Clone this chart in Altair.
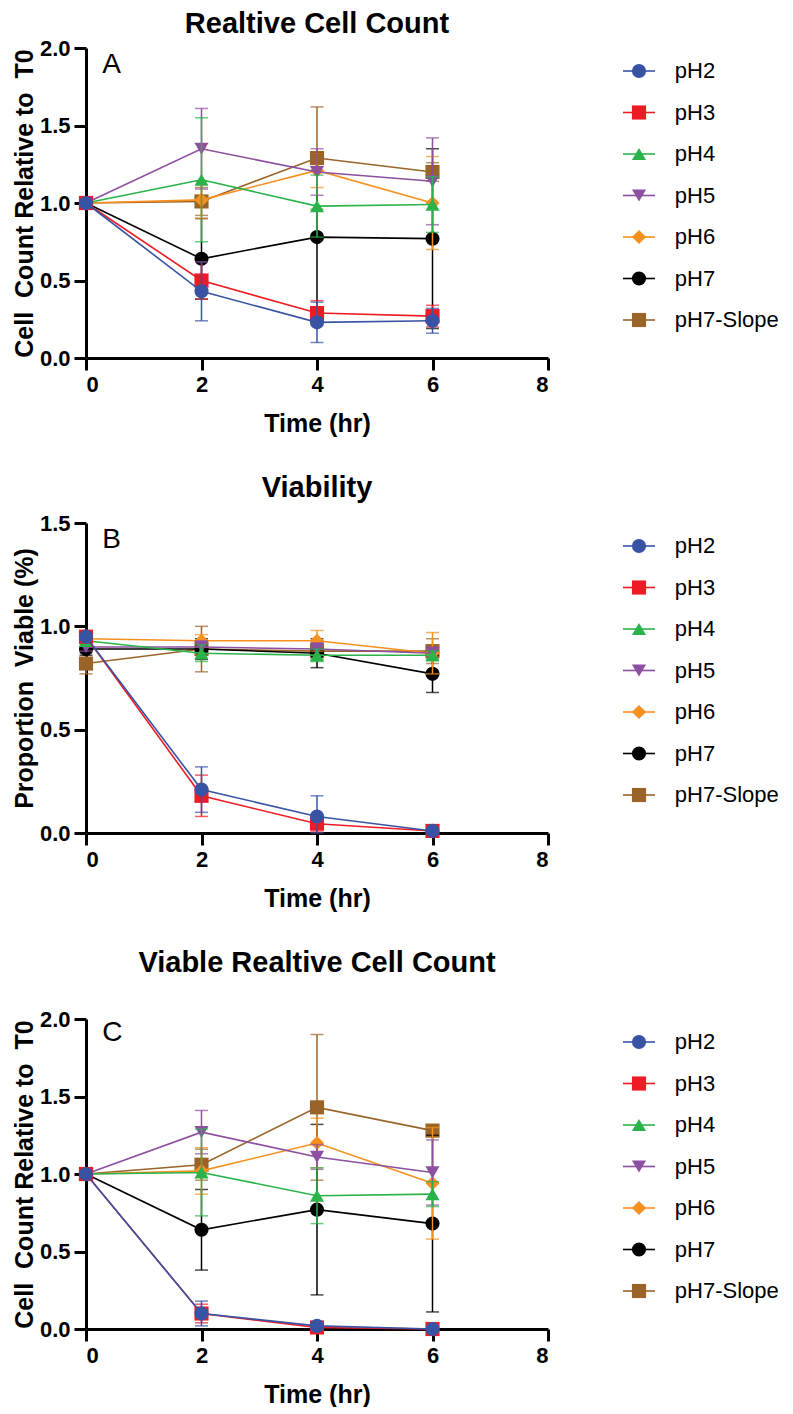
import altair as alt
import pandas as pd

# ---------------- data ----------------
times = [0, 2, 4, 6]
series = ["pH2", "pH3", "pH4", "pH5", "pH6", "pH7", "pH7-Slope"]
colors = ["#3953a4", "#ed1c24", "#2bb34b", "#8d4f9f", "#f7901e", "#000000", "#9a6428"]
shapes = ["circle", "square", "triangle-up", "triangle-down", "diamond", "circle", "square"]

# Panel A: relative cell count (mean, SD)
a_mean = [
    [1.0, 0.43, 0.23, 0.24],
    [1.0, 0.50, 0.29, 0.27],
    [1.0, 1.15, 0.98, 0.99],
    [1.0, 1.35, 1.20, 1.14],
    [1.0, 1.02, 1.21, 1.00],
    [1.0, 0.64, 0.78, 0.77],
    [1.0, 1.01, 1.29, 1.20],
]
a_err = [
    [0, 0.19, 0.13, 0.08],
    [0, 0.12, 0.08, 0.07],
    [0, 0.40, 0.20, 0.18],
    [0, 0.26, 0.15, 0.28],
    [0, 0.12, 0.11, 0.30],
    [0, 0.26, 0.54, 0.58],
    [0, 0.09, 0.33, 0.06],
]
# Panel B: viability
b_mean = [
    [0.95, 0.21, 0.08, 0.01],
    [0.95, 0.18, 0.045, 0.01],
    [0.93, 0.87, 0.86, 0.86],
    [0.90, 0.90, 0.89, 0.87],
    [0.94, 0.93, 0.93, 0.87],
    [0.89, 0.89, 0.87, 0.77],
    [0.82, 0.89, 0.88, 0.88],
]
b_err = [
    [0.01, 0.11, 0.10, 0.01],
    [0.01, 0.10, 0.04, 0.01],
    [0.02, 0.04, 0.03, 0.02],
    [0.02, 0.03, 0.03, 0.03],
    [0.02, 0.03, 0.05, 0.10],
    [0.03, 0.05, 0.07, 0.09],
    [0.05, 0.11, 0.04, 0.06],
]
# Panel C: viable relative cell count
c_mean = [
    [1.0, 0.10, 0.02, 0.00],
    [1.0, 0.10, 0.01, 0.00],
    [1.0, 1.01, 0.86, 0.87],
    [1.0, 1.27, 1.11, 1.01],
    [1.0, 1.02, 1.20, 0.94],
    [1.0, 0.64, 0.77, 0.68],
    [1.0, 1.06, 1.43, 1.28],
]
c_err = [
    [0, 0.08, 0.02, 0.0],
    [0, 0.06, 0.01, 0.0],
    [0, 0.28, 0.18, 0.08],
    [0, 0.14, 0.08, 0.21],
    [0, 0.15, 0.16, 0.36],
    [0, 0.26, 0.55, 0.57],
    [0, 0.10, 0.47, 0.03],
]

titles = ["Realtive Cell Count", "Viability", "Viable Realtive Cell Count"]
ytitles = ["Cell\u00a0 Count Relative to\u00a0 T0", "Proportion\u00a0 Viable (%)",
           "Cell\u00a0 Count Relative to\u00a0 T0"]
letters = ["A", "B", "C"]
letter_y = [1.84, 1.38, 1.86]
ymax = [2.0, 1.5, 2.0]
yticks = [[0, 0.5, 1.0, 1.5, 2.0], [0, 0.5, 1.0, 1.5], [0, 0.5, 1.0, 1.5, 2.0]]
xticks = [0, 2, 4, 6, 8]

FONT = "Liberation Sans"
PW, PH = 462, 310
LEG_W = 156
title_offsets = [-2, 9, 30]

color_scale = alt.Scale(domain=series, range=colors)
shape_scale = alt.Scale(domain=series, range=shapes)


def make_df(means, errs):
    rows = []
    for s, m, e in zip(series, means, errs):
        for t, v, d in zip(times, m, e):
            rows.append({"series": s, "time": t, "mean": v, "err": d,
                         "lo": max(v - d, 0), "hi": v + d})
    return pd.DataFrame(rows)


def panel(i, means, errs):
    df = make_df(means, errs)
    xs = alt.Scale(domain=[0, 8], nice=False)
    ys = alt.Scale(domain=[0, ymax[i]], nice=False)
    xaxis = alt.Axis(values=xticks, format="d", title="Time (hr)")
    yaxis = alt.Axis(values=yticks[i], format=".1f", title=ytitles[i])
    X = alt.X("time:Q", scale=xs, axis=xaxis)
    col = alt.Color("series:N", scale=color_scale, legend=None)
    layers = []
    for s in reversed(series):
        base = alt.Chart(df).transform_filter(alt.FieldEqualPredicate(field="series", equal=s))
        eb = base.transform_filter("datum.err > 0")
        layers.append(eb.mark_rule(strokeWidth=1.5).encode(
            x=X, y=alt.Y("lo:Q", scale=ys, axis=yaxis), y2="hi:Q", color=col))
        layers.append(eb.transform_fold(["lo", "hi"], as_=["k", "v"]).mark_tick(
            orient="horizontal", size=13, thickness=1.5).encode(
            x=X, y=alt.Y("v:Q", scale=ys, axis=yaxis), color=col))
        layers.append(base.mark_line(strokeWidth=1.6).encode(
            x=X, y=alt.Y("mean:Q", scale=ys, axis=yaxis), color=col))
        layers.append(base.mark_point(filled=True, size=200, opacity=1).encode(
            x=X, y=alt.Y("mean:Q", scale=ys, axis=yaxis), color=col,
            shape=alt.Shape("series:N", scale=shape_scale, legend=None)))
    lab = alt.Chart(pd.DataFrame({"lab": [letters[i]]})).mark_text(
        align="left", baseline="alphabetic", fontSize=28, font=FONT, color="black").encode(
        x=alt.X(datum=0.28, type="quantitative", scale=xs, axis=xaxis),
        y=alt.Y(datum=letter_y[i], type="quantitative", scale=ys, axis=yaxis),
        text="lab:N")
    layers.append(lab)
    return alt.layer(*layers).properties(
        width=PW, height=PH,
        title=alt.TitleParams(titles[i], fontSize=29, font=FONT, fontWeight="bold",
                              anchor="middle", frame="group", offset=title_offsets[i],
                              color="black"))


def legend_chart():
    ldf = pd.DataFrame({"series": series, "idx": list(range(len(series)))})
    lx = alt.Scale(domain=[0, LEG_W / 32], nice=False)
    ly = alt.Scale(domain=[-23 / 41.5, (PH - 23) / 41.5], reverse=True, nice=False, zero=False)
    Y = alt.Y("idx:Q", scale=ly, axis=None)
    col = alt.Color("series:N", scale=color_scale, legend=None)
    base = alt.Chart(ldf)
    rule = base.mark_rule(strokeWidth=1.6).encode(
        x=alt.X(datum=0, type="quantitative", scale=lx, axis=None),
        x2=alt.X2(datum=1), y=Y, color=col)
    pt = base.mark_point(filled=True, size=200, opacity=1).encode(
        x=alt.X(datum=0.5, type="quantitative", scale=lx, axis=None), y=Y, color=col,
        shape=alt.Shape("series:N", scale=shape_scale, legend=None))
    txt = base.mark_text(align="left", baseline="middle", fontSize=22, font=FONT,
                         color="black").encode(
        x=alt.X(datum=1.62, type="quantitative", scale=lx, axis=None), y=Y, text="series:N")
    return alt.layer(rule, pt, txt).properties(width=LEG_W, height=PH)


rows = []
for i, (m, e) in enumerate([(a_mean, a_err), (b_mean, b_err), (c_mean, c_err)]):
    rows.append(alt.hconcat(panel(i, m, e), legend_chart(), spacing=75, bounds="flush"))

chart = alt.vconcat(*rows, spacing=38).properties(
    padding={"left": 4, "top": 2, "right": 0, "bottom": 0}
).configure_view(stroke=None).configure_axis(
    grid=False, domainColor="black", domainWidth=3, tickColor="black", tickWidth=3,
    tickSize=12, labelFont=FONT, labelFontSize=22, labelFontWeight="bold",
    labelColor="black", labelPadding=4, titleFont=FONT, titleFontSize=25,
    titleFontWeight="bold", titleColor="black", titlePadding=2
).configure_axisX(titlePadding=16)

chart.save("out.html", embed_options={"renderer": "svg", "actions": False})
